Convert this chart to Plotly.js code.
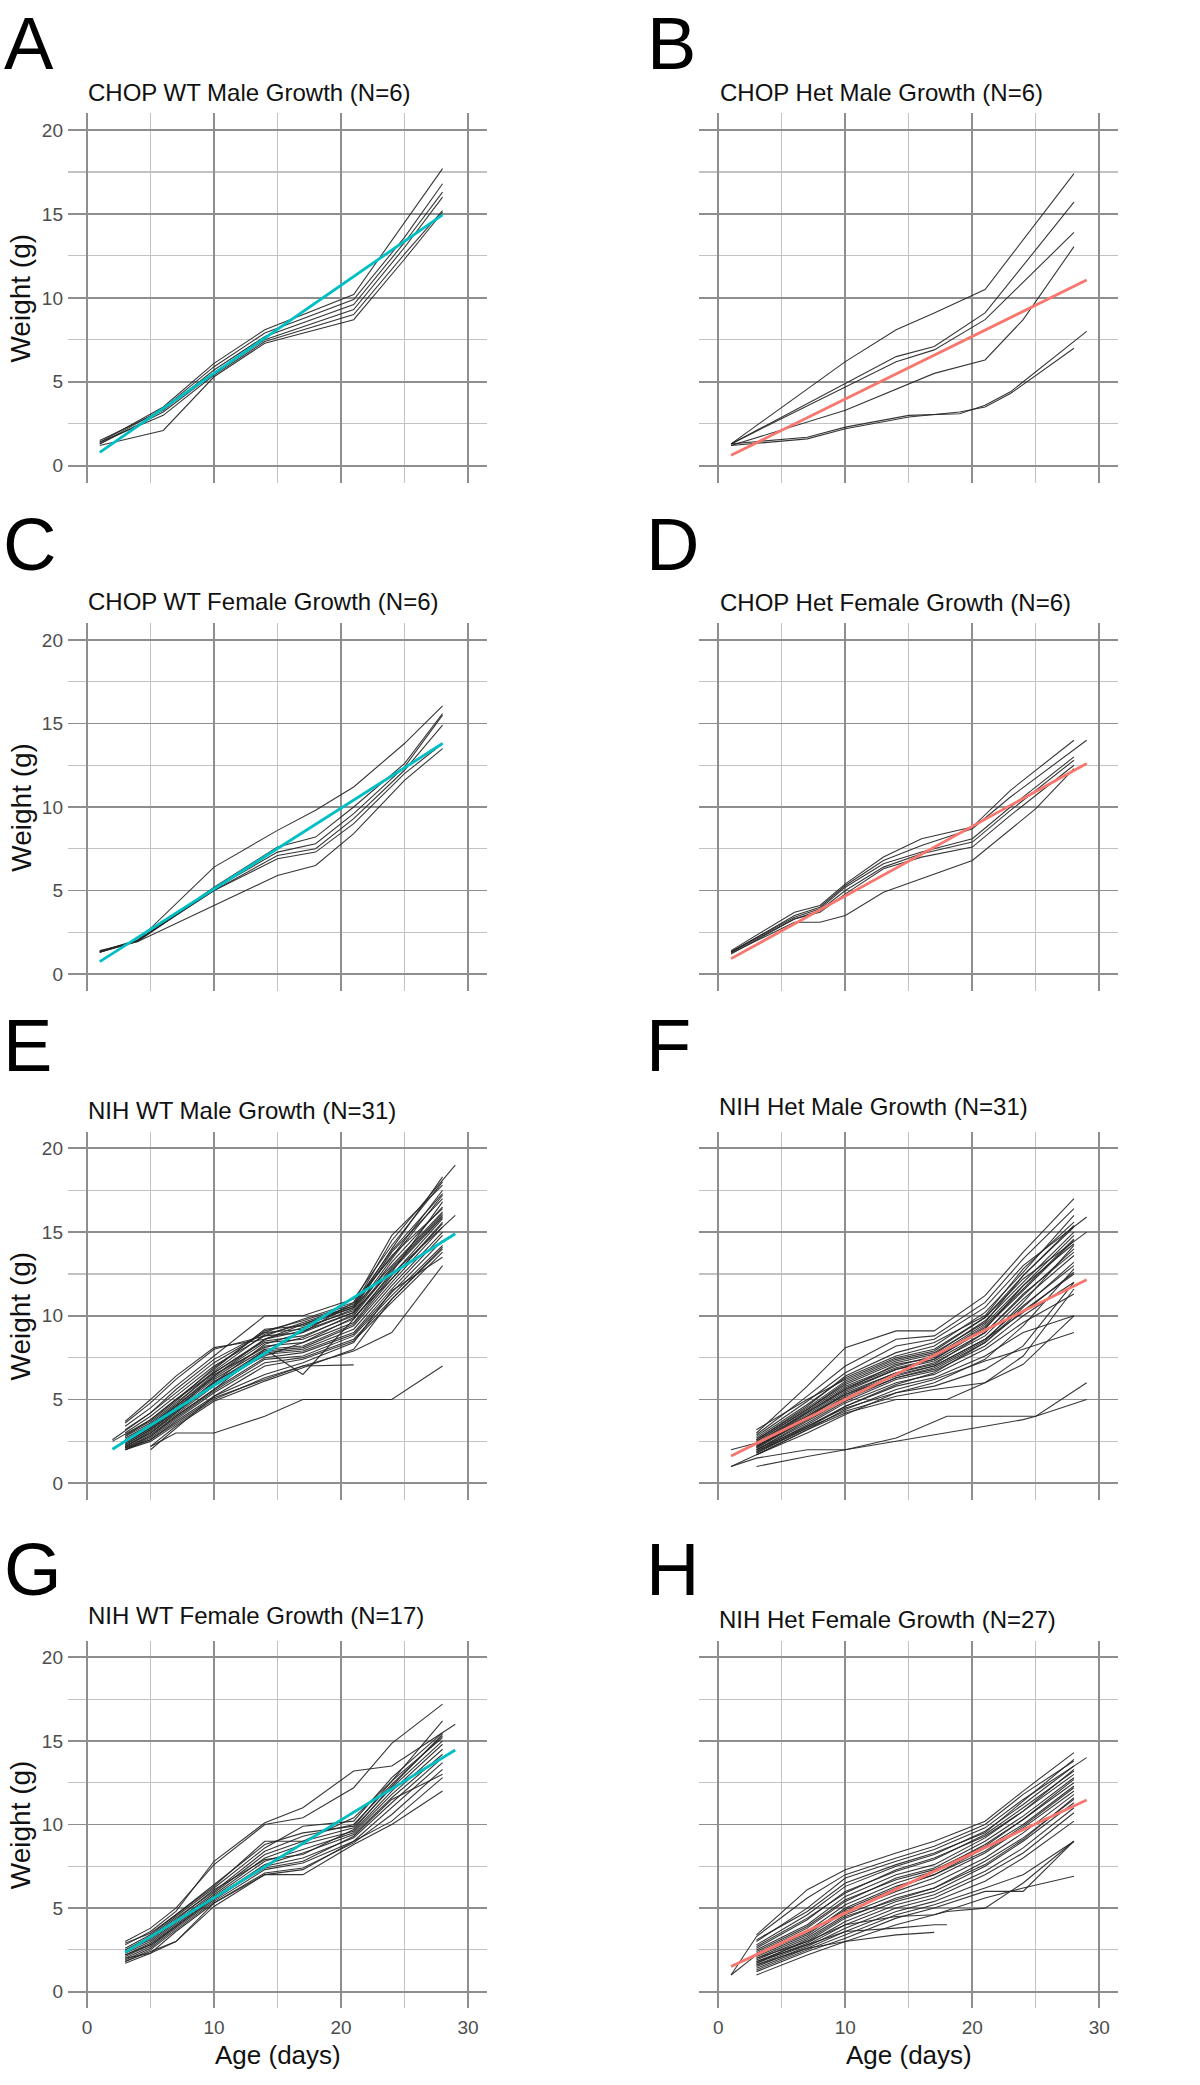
<!DOCTYPE html>
<html>
<head>
<meta charset="utf-8">
<script src="https://cdn.plot.ly/plotly-3.0.1.min.js"></script>
<style>
html,body{margin:0;padding:0;background:#ffffff;}
#chart{width:1200px;height:2085px;}
</style>
</head>
<body>
<div id="chart"></div>
<script>
// ---------------- DATA ----------------
const panelLetters = ['A','B','C','D','E','F','G','H'];
const panelTitles = [
  'CHOP WT Male Growth (N=6)', 'CHOP Het Male Growth (N=6)',
  'CHOP WT Female Growth (N=6)', 'CHOP Het Female Growth (N=6)',
  'NIH WT Male Growth (N=31)', 'NIH Het Male Growth (N=31)',
  'NIH WT Female Growth (N=17)', 'NIH Het Female Growth (N=27)'
];
const xTitle = 'Age (days)';
const yTitle = 'Weight (g)';
const xTickVals = [0, 10, 20, 30];
const yTickVals = [0, 5, 10, 15, 20];

// A: CHOP WT Male
const A_days = [1, 6, 10, 14, 21, 25, 28];
const A_weights = [
  [1.4, 3.5, 6.1, 8.1, 10.2, 14.5, 17.7],
  [1.3, 3.4, 5.9, 7.9, 9.9, 13.6, 16.8],
  [1.5, 3.3, 5.7, 7.7, 9.6, 13.3, 16.3],
  [1.3, 3.2, 5.5, 7.5, 9.3, 13.0, 16.0],
  [1.4, 3.0, 5.4, 7.4, 9.0, 12.6, 15.2],
  [1.2, 2.1, 5.3, 7.3, 8.7, 12.3, 15.1]
];
const A_fitDays = [1, 28];
const A_fitWeights = [0.79, 14.94];

// B: CHOP Het Male
const B_days = [1, 7, 10, 14, 15, 17, 19, 21, 23, 24, 28, 29];
const B_weights = [
  [1.3, null, 6.2, 8.1, null, 9.1, null, 10.5, null, null, 17.4, null],
  [1.3, null, 4.9, 6.5, null, 7.1, null, 9.1, null, null, 15.7, null],
  [1.3, null, 4.7, 6.2, null, 6.9, null, 8.7, null, null, 13.9, null],
  [1.2, null, 3.3, null, null, 5.5, null, 6.3, null, 8.7, 13.05, null],
  [1.3, 1.7, 2.3, null, 3.0, null, 3.1, 3.6, 4.4, null, null, 8.0],
  [1.2, 1.6, 2.2, null, 2.9, null, 3.2, 3.5, 4.3, null, 7.0, null]
];
const B_fitDays = [1, 29];
const B_fitWeights = [0.62, 11.06];

// C: CHOP WT Female
const C_days = [1, 4, 10, 15, 18, 21, 25, 28];
const C_weights = [
  [1.35, 2.0, 6.4, 8.6, 9.8, 11.2, 13.8, 16.05],
  [1.3, 2.0, 5.2, 7.6, 8.2, 10.0, 12.6, 15.6],
  [1.4, 1.95, 5.1, 7.3, 7.8, 9.6, 12.4, 15.5],
  [1.3, 2.0, 5.0, 7.1, 7.5, 9.3, 12.2, 14.9],
  [1.35, 2.05, 5.0, 6.9, 7.3, 9.0, 12.0, 13.8],
  [1.3, 1.95, 4.1, 5.9, 6.5, 8.4, 11.6, 13.5]
];
const C_fitDays = [1, 28];
const C_fitWeights = [0.74, 13.8];

// D: CHOP Het Female
const D_days = [1, 6, 8, 10, 13, 16, 20, 23, 25, 28, 29];
const D_weights = [
  [1.4, 3.7, 4.1, 5.4, 7.0, 8.1, 8.8, 11.0, null, 14.0, null],
  [1.3, 3.5, 4.0, 5.3, 6.8, 7.7, 8.7, 10.6, null, null, 14.0],
  [1.35, 3.4, 3.9, 5.2, 6.6, 7.3, 8.1, 10.0, null, 13.0, null],
  [1.2, 3.3, 3.8, 5.0, 6.4, 7.2, 7.9, 9.8, null, 12.8, null],
  [1.3, 3.3, 3.7, 4.8, 6.3, 7.0, 7.6, 9.5, null, 12.5, null],
  [1.25, 3.1, 3.1, 3.5, 4.9, 5.7, 6.8, null, 9.9, 12.3, null]
];
const D_fitDays = [1, 29];
const D_fitWeights = [0.92, 12.6];

// E: NIH WT Male
const E_days = [2, 3, 5, 7, 10, 14, 17, 21, 24, 28, 29];
const E_weights = [
  [2.6, null, 4.2, 5.6, 7.4, 9.0, 9.8, 10.8, 13.5, 17.5, null],
  [null, 3.7, 5.0, 6.4, 8.1, 8.6, 9.5, 10.5, 14.0, 18.3, null],
  [null, 3.6, 4.8, 6.2, 8.0, 8.8, 9.6, 10.6, 14.5, null, 19.0],
  [null, 3.4, 4.5, 5.8, 7.6, 10.0, 10.0, 11.0, 14.2, 18.0, null],
  [null, 3.2, 4.2, 5.4, 7.2, 9.0, 9.2, 10.4, 13.8, 17.0, null],
  [null, 3.0, 4.0, 5.2, 7.0, 8.8, 9.0, 10.2, 13.2, 16.5, null],
  [null, 2.8, 3.8, 5.0, 6.8, 9.2, 9.4, 10.5, 13.0, 16.2, null],
  [null, 2.8, 3.6, 4.8, 6.6, 8.5, 8.8, 10.0, 12.8, 16.0, null],
  [null, 2.6, 3.5, 4.6, 6.4, 8.4, 8.6, 9.8, 12.5, null, 16.0],
  [null, 2.5, 3.4, 4.5, 6.3, 8.2, 8.4, 9.6, 12.4, 15.8, null],
  [null, 2.4, 3.3, 4.4, 6.2, 8.0, 8.2, 9.5, 12.2, 15.5, null],
  [null, 2.3, 3.2, 4.3, 6.0, 7.9, 8.1, 9.4, 12.0, 15.3, null],
  [null, 2.2, 3.1, 4.2, 5.9, 7.8, 8.0, 9.2, 11.8, 15.0, null],
  [null, 2.2, 3.0, 4.1, 5.8, 7.7, 7.9, 9.0, 11.6, 14.8, null],
  [null, 2.1, 2.9, 4.0, 5.6, 7.5, 7.8, 8.9, 11.4, 14.5, null],
  [null, 2.0, 2.8, 3.9, 5.5, 7.4, 7.6, 8.8, 11.2, 14.2, null],
  [null, 2.0, 2.7, 3.8, 5.4, 7.2, 7.5, 8.6, 11.0, 14.0, null],
  [null, 2.0, 2.6, 3.7, 5.2, 7.0, 7.4, 8.5, 10.8, 13.8, null],
  [null, 2.1, 2.8, 4.0, 5.6, 8.0, 6.5, 9.8, 12.6, 16.8, null],
  [null, 2.3, 3.2, 4.3, 6.0, 8.3, 9.0, 10.8, 14.8, 17.8, null],
  [null, 2.0, 2.5, 3.5, 5.0, 6.3, 7.0, 7.07, null, null, null],
  [null, 2.1, 2.6, 3.6, 5.1, 6.2, 7.0, 7.9, 9.0, 13.0, null],
  [null, null, 2.2, 3.0, 3.0, 4.0, 5.0, 5.0, 5.0, 7.0, null],
  [null, null, 2.2, 3.4, 4.9, 6.1, 6.9, 8.0, 11.0, 14.1, null],
  [null, null, 2.0, 3.3, 5.2, 6.5, 7.2, 8.4, 11.5, 13.5, null],
  [null, 2.4, 3.3, 4.4, 6.4, 8.6, 9.3, 10.3, 13.4, 17.2, null],
  [null, 2.7, 3.5, 4.7, 6.7, 8.9, 9.5, 10.6, 13.6, 16.4, null],
  [null, 2.9, 3.7, 4.9, 6.9, 9.1, 9.7, 10.7, 13.9, 17.3, null],
  [null, 2.2, 3.0, 4.2, 6.1, 7.6, 8.4, 9.9, 12.2, 15.6, null],
  [null, 2.5, 3.4, 4.6, 6.5, 8.1, 8.7, 10.1, 12.9, 16.1, null],
  [2.5, null, 3.8, 5.0, 6.6, 8.6, 9.1, 10.2, 12.7, 15.9, null]
];
const E_fitDays = [2, 29];
const E_fitWeights = [2.03, 14.9];

// F: NIH Het Male
const F_days = [1, 3, 7, 10, 14, 17, 18, 21, 24, 25, 28, 29];
const F_weights = [
  [null, 3.0, 5.8, 8.1, 9.1, 9.1, null, 11.2, 13.8, null, 17.0, null],
  [null, 2.9, 5.2, 7.0, 8.6, 8.8, null, 10.8, 13.4, null, 16.4, null],
  [null, 2.8, 4.9, 6.6, 8.2, 8.6, null, 10.5, 13.0, null, null, 15.9],
  [null, 2.7, 4.7, 6.3, 7.6, 8.2, null, 10.2, 12.6, null, 16.0, null],
  [null, 2.6, 4.5, 6.1, 7.4, 7.9, null, 9.9, 12.2, null, null, 15.0],
  [null, 2.5, 4.4, 5.9, 7.2, 7.7, null, 9.7, 12.0, null, 15.0, null],
  [null, 2.4, 4.3, 5.8, 7.0, 7.6, null, 9.5, 11.8, null, 14.8, null],
  [null, 2.3, 4.2, 5.7, 6.9, 7.4, null, 9.3, 11.5, null, 14.5, null],
  [null, 2.2, 4.0, 5.5, 6.8, 7.3, null, 9.0, 11.2, null, 14.0, null],
  [null, 2.2, 3.9, 5.4, 6.6, 7.2, null, 8.8, 11.0, null, 13.6, null],
  [null, 2.1, 3.8, 5.2, 6.5, 7.0, null, 8.6, 10.6, null, 13.0, null],
  [null, 2.0, 3.7, 5.0, 6.3, 6.8, null, 8.4, 10.3, null, 12.5, null],
  [null, 2.0, 3.6, 4.9, 6.2, 6.7, null, 8.2, 10.0, null, 12.0, null],
  [null, 1.9, 3.5, 4.8, 6.0, 6.5, null, 8.0, 9.6, null, 11.3, null],
  [null, 1.8, 3.4, 4.6, 5.8, 6.3, null, 7.6, 9.0, null, 10.0, null],
  [null, 1.7, 3.2, 4.4, 5.6, 6.2, null, 7.3, 8.0, null, 9.0, null],
  [2.0, 2.4, 4.0, 5.3, 6.4, 7.0, null, 8.6, 10.2, null, 12.6, null],
  [1.0, 1.7, 3.2, 4.2, 5.0, 5.0, 5.0, 6.0, 7.1, null, 10.0, null],
  [null, 2.0, 3.4, 4.5, 5.4, 5.8, null, 6.8, 8.2, null, 12.0, null],
  [null, 1.8, 3.3, 4.3, 5.2, 5.6, null, 6.0, 7.6, null, 11.6, null],
  [1.0, 1.5, 2.0, 2.0, 2.7, 3.7, 4.0, 4.0, 4.0, 4.0, null, 6.0],
  [null, 1.0, 1.6, 2.0, 2.5, 2.9, 3.0, 3.4, 3.8, 4.0, null, 5.0],
  [null, 2.6, 4.6, 6.4, 7.8, 8.4, null, 10.0, 12.8, null, 15.6, null],
  [null, 2.5, 4.4, 6.0, 7.3, 7.8, null, 9.6, 12.4, null, 15.3, null],
  [null, 2.3, 4.1, 5.6, 6.8, 7.4, null, 9.2, 11.8, null, 14.3, null],
  [null, 2.1, 3.9, 5.3, 6.6, 7.1, null, 9.0, 11.3, null, 13.8, null],
  [null, 3.2, 5.0, 6.2, 7.5, 8.0, null, 9.9, 12.4, null, 15.4, null],
  [null, 1.9, 3.3, 4.6, 5.9, 6.6, null, 8.4, 10.5, null, 13.2, null],
  [null, 2.2, 3.8, 5.1, 6.3, 6.9, null, 8.5, 10.8, null, 14.2, null],
  [null, 1.7, 3.0, 4.1, 5.4, 6.0, null, 7.4, 9.4, null, 12.8, null],
  [null, 2.4, 4.2, 5.6, 7.1, 7.5, null, 9.4, 11.6, null, 14.6, null]
];
const F_fitDays = [1, 29];
const F_fitWeights = [1.63, 12.15];

// G: NIH WT Female
const G_days = [3, 5, 7, 10, 14, 17, 21, 24, 28, 29];
const G_weights = [
  [3.0, 3.8, 5.0, 7.6, 10.0, 10.4, 12.2, 14.85, 17.2, null],
  [2.8, 3.6, 4.8, 7.8, 10.1, 11.0, 13.2, 13.5, null, 16.0],
  [2.6, 3.4, 4.6, 6.3, 9.0, 9.0, 10.4, 12.6, 16.2, null],
  [2.5, 3.3, 4.5, 6.2, 8.6, 9.9, 10.2, 12.8, 15.5, null],
  [2.4, 3.2, 4.4, 6.0, 8.4, 9.3, 10.0, 12.4, 15.3, null],
  [2.3, 3.0, 4.2, 5.9, 8.2, 9.0, 9.8, 12.2, 15.0, null],
  [2.2, 2.9, 4.1, 5.8, 8.0, 8.8, 9.6, 12.0, 14.8, null],
  [2.1, 2.8, 4.0, 5.7, 7.8, 8.5, 9.5, 11.8, 14.5, null],
  [2.0, 2.7, 3.9, 5.6, 7.6, 8.3, 9.4, 11.6, 14.2, null],
  [1.9, 2.6, 3.8, 5.5, 7.5, 8.0, 9.2, 11.3, 14.0, null],
  [1.8, 2.5, 3.7, 5.4, 7.3, 7.7, 9.0, 11.0, 13.7, null],
  [1.7, 2.3, 3.6, 5.3, 7.1, 7.4, 8.9, 10.6, 13.3, null],
  [2.0, 2.3, 3.0, 5.3, 7.0, 7.0, 8.8, 10.0, 12.0, null],
  [1.8, 2.4, 3.0, 5.1, 7.0, 7.3, 9.0, 10.2, 12.8, null],
  [2.2, 2.8, 3.9, 5.6, 7.4, 7.8, 9.3, 11.5, 13.0, null],
  [2.4, 3.1, 4.3, 6.1, 7.9, 8.2, 9.7, 12.3, 15.4, null],
  [2.9, 3.5, 4.6, 6.4, 8.8, 9.5, 9.9, 12.6, 15.2, null]
];
const G_fitDays = [3, 29];
const G_fitWeights = [2.35, 14.46];

// H: NIH Het Female
const H_days = [1, 3, 7, 10, 14, 17, 18, 21, 24, 28, 29];
const H_weights = [
  [null, 3.4, 6.1, 7.3, 8.3, 9.0, null, 10.2, 12.0, 14.3, null],
  [1.0, 3.3, 5.6, 7.0, 8.0, 8.7, null, 10.0, 11.8, 13.8, null],
  [null, 3.0, 5.0, 6.8, 7.8, 8.5, null, 9.8, 11.5, null, 14.0],
  [null, 2.8, 4.6, 6.3, 7.5, 8.2, null, 9.6, 11.2, 13.5, null],
  [null, 2.6, 4.3, 6.0, 7.2, 7.9, null, 9.4, 11.0, 13.2, null],
  [null, 2.5, 4.0, 5.7, 7.0, 7.6, null, 9.2, 10.8, 13.0, null],
  [null, 2.3, 3.8, 5.4, 6.8, 7.4, null, 9.0, 10.5, 12.8, null],
  [null, 2.2, 3.6, 5.2, 6.5, 7.2, null, 8.8, 10.3, 12.5, null],
  [null, 2.1, 3.4, 5.0, 6.3, 7.0, null, 8.6, 10.0, 12.3, null],
  [null, 2.0, 3.3, 4.8, 6.0, 6.8, null, 8.3, 9.8, 12.0, null],
  [null, 1.9, 3.2, 4.6, 5.8, 6.5, null, 8.0, 9.5, 11.8, null],
  [null, 1.8, 3.0, 4.4, 5.6, 6.2, null, 7.8, 9.2, 11.5, null],
  [null, 1.7, 2.9, 4.2, 5.4, 6.0, null, 7.5, 9.0, 11.3, null],
  [null, 1.6, 2.8, 4.0, 5.2, 5.8, null, 7.2, 8.6, 11.0, null],
  [null, 1.5, 2.7, 3.8, 5.0, 5.6, null, 7.0, 8.3, 10.7, null],
  [null, 1.4, 2.6, 3.6, 4.8, 5.4, null, 6.6, 8.0, 10.2, null],
  [null, 1.3, 2.5, 3.4, 4.6, 5.2, null, 6.2, 7.0, 9.0, null],
  [null, 1.2, 2.4, 3.2, 4.4, 5.0, null, 6.0, 6.0, 9.0, null],
  [null, 1.0, 2.2, 3.0, 4.0, 4.6, null, 5.6, 6.2, 6.9, null],
  [null, 1.6, 2.6, 3.0, 3.4, 3.55, null, null, null, null, null],
  [null, 1.8, 2.8, 3.6, 3.8, 4.0, 4.0, null, null, null, null],
  [null, 2.0, 3.0, 4.0, 4.5, 4.6, 4.8, 5.0, 6.5, 9.0, null],
  [1.0, 2.2, 3.5, 4.9, 6.2, 7.0, null, 8.4, 9.9, 12.2, null],
  [null, 2.4, 3.9, 5.5, 6.7, 7.3, null, 8.7, 10.3, 12.7, null],
  [null, 2.7, 4.4, 5.9, 7.3, 8.0, null, 9.3, 10.8, 13.3, null],
  [null, 3.1, 4.8, 6.5, 7.6, 8.3, null, 9.5, 11.4, 13.9, null],
  [null, 1.7, 3.1, 4.5, 5.5, 6.2, null, 7.6, 9.1, 11.6, null]
];
const H_fitDays = [1, 29];
const H_fitWeights = [1.5, 11.47];

// ---------------- STYLE / LAYOUT ----------------
const W = 1200, H = 2085;
const FONT = 'Liberation Sans, Arial, Helvetica, sans-serif';
const WT_COLOR = '#00BFC4';
const HET_COLOR = '#F8766D';
const colPx = [[68, 487], [699.3, 1118.4]];
const rowPx = [[113.2, 482.5], [623.3, 990.7], [1131.6, 1500.0], [1640.6, 2008.4]];
const LETTER_SIZE = 74;
// [left x, y, yanchor]
const letterPos = [[3, 0.5, 'top'], [646, 0.5, 'top'], [2, 544, 'middle'], [645, 544, 'middle'],
                   [1.5, 1045, 'middle'], [645, 1045, 'middle'], [3, 1569.5, 'middle'], [645, 1569.5, 'middle']];
const titlePos = [[86, 93], [717.5, 93], [86, 601.5], [717.5, 602], [86, 1110.5], [717, 1106.7], [86, 1615.5], [717, 1619]];

const panels = [
  {days: A_days, weights: A_weights, fd: A_fitDays, fw: A_fitWeights, color: WT_COLOR},
  {days: B_days, weights: B_weights, fd: B_fitDays, fw: B_fitWeights, color: HET_COLOR},
  {days: C_days, weights: C_weights, fd: C_fitDays, fw: C_fitWeights, color: WT_COLOR},
  {days: D_days, weights: D_weights, fd: D_fitDays, fw: D_fitWeights, color: HET_COLOR},
  {days: E_days, weights: E_weights, fd: E_fitDays, fw: E_fitWeights, color: WT_COLOR},
  {days: F_days, weights: F_weights, fd: F_fitDays, fw: F_fitWeights, color: HET_COLOR},
  {days: G_days, weights: G_weights, fd: G_fitDays, fw: G_fitWeights, color: WT_COLOR},
  {days: H_days, weights: H_weights, fd: H_fitDays, fw: H_fitWeights, color: HET_COLOR}
];

const traces = [];
const layout = {
  width: W, height: H,
  margin: {l: 0, r: 0, t: 0, b: 0, pad: 0},
  paper_bgcolor: '#ffffff', plot_bgcolor: '#ffffff',
  showlegend: false,
  font: {family: FONT, color: '#000000'},
  annotations: []
};

const MAJOR = '#8e8e8e', MINOR = '#c2c2c2';

panels.forEach((p, i) => {
  const id = i === 0 ? '' : String(i + 1);
  const col = i % 2, row = Math.floor(i / 2);
  p.weights.forEach(w => {
    traces.push({
      type: 'scatter', mode: 'lines', x: p.days, y: w,
      xaxis: 'x' + id, yaxis: 'y' + id, connectgaps: true,
      line: {color: 'rgba(38,38,38,0.92)', width: 1.1},
      hoverinfo: 'skip', showlegend: false
    });
  });
  traces.push({
    type: 'scatter', mode: 'lines', x: p.fd, y: p.fw,
    xaxis: 'x' + id, yaxis: 'y' + id,
    line: {color: p.color, width: 2.8},
    hoverinfo: 'skip', showlegend: false
  });

  layout['xaxis' + id] = {
    domain: [colPx[col][0] / W, colPx[col][1] / W],
    anchor: 'y' + id, range: [-1.5, 31.5], fixedrange: true,
    tickmode: 'array', tickvals: xTickVals,
    showgrid: true, gridcolor: MAJOR, gridwidth: 1.7,
    minor: {tickmode: 'array', tickvals: [5, 15, 25], showgrid: true, gridcolor: MINOR, gridwidth: 1.2},
    zeroline: false, showline: false, ticks: '',
    showticklabels: row === 3, ticklabelstandoff: 6,
    tickfont: {family: FONT, size: 19, color: '#4d4d4d'}
  };
  layout['yaxis' + id] = {
    domain: [1 - rowPx[row][1] / H, 1 - rowPx[row][0] / H],
    anchor: 'x' + id, range: [-1, 21], fixedrange: true,
    tickmode: 'array', tickvals: yTickVals,
    showgrid: true, gridcolor: MAJOR, gridwidth: 1.7,
    minor: {tickmode: 'array', tickvals: [2.5, 7.5, 12.5, 17.5], showgrid: true, gridcolor: MINOR, gridwidth: 1.2},
    zeroline: false, showline: false, ticks: '',
    showticklabels: col === 0, ticklabelstandoff: 4,
    tickfont: {family: FONT, size: 19, color: '#4d4d4d'}
  };

  // panel letter
  layout.annotations.push({
    text: panelLetters[i], xref: 'paper', yref: 'paper',
    x: letterPos[i][0] / W, y: 1 - letterPos[i][1] / H,
    xanchor: 'left', yanchor: letterPos[i][2], showarrow: false, borderpad: 0,
    font: {family: FONT, size: LETTER_SIZE, color: '#000000'}
  });
  // panel title
  layout.annotations.push({
    text: panelTitles[i], xref: 'paper', yref: 'paper',
    x: titlePos[i][0] / W, y: 1 - titlePos[i][1] / H,
    xanchor: 'left', yanchor: 'middle', showarrow: false,
    font: {family: FONT, size: 24, color: '#111111'}
  });
  // y axis title (left column)
  if (col === 0) {
    layout.annotations.push({
      text: yTitle, xref: 'paper', yref: 'paper',
      x: 20.7 / W, y: 1 - ((rowPx[row][0] + rowPx[row][1]) / 2) / H,
      xanchor: 'center', yanchor: 'middle', textangle: -90, showarrow: false,
      font: {family: FONT, size: 28, color: '#111111'}
    });
  }
  // x axis title (bottom row)
  if (row === 3) {
    layout.annotations.push({
      text: xTitle, xref: 'paper', yref: 'paper',
      x: ((colPx[col][0] + colPx[col][1]) / 2) / W, y: 1 - 2055.3 / H,
      xanchor: 'center', yanchor: 'middle', showarrow: false,
      font: {family: FONT, size: 26, color: '#111111'}
    });
  }
});

Plotly.newPlot('chart', traces, layout, {displayModeBar: false, staticPlot: true});
</script>
</body>
</html>
